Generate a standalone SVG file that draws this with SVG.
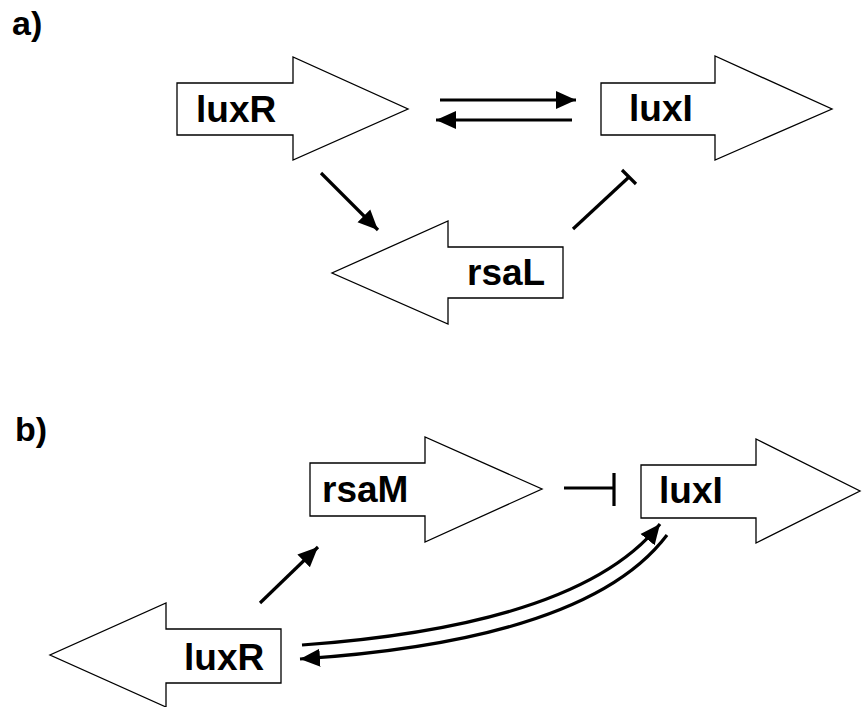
<svg xmlns="http://www.w3.org/2000/svg" width="862" height="707" viewBox="0 0 862 707">
<defs>
<style>
.gene{fill:#fff;stroke:#000;stroke-width:1.3;stroke-linejoin:miter}
.lbl{font-family:"Liberation Sans",Arial,sans-serif;font-weight:bold;font-size:37px;fill:#000}
.panel{font-family:"Liberation Sans",Arial,sans-serif;font-weight:bold;font-size:34px;fill:#000}
.edge{fill:none;stroke:#000;stroke-width:3.2}
</style>
<marker id="ah" markerUnits="userSpaceOnUse" markerWidth="22" markerHeight="20" viewBox="0 0 22 20" refX="20" refY="10" orient="auto">
<path d="M0,1 L20,10 L0,19 Z" fill="#000"/>
</marker>
</defs>
<rect width="862" height="707" fill="#fff"/>
<text class="panel" x="12" y="35">a)</text>
<text class="panel" x="15" y="441">b)</text>

<g id="luxR_a">
<polygon class="gene" points="177,83 293,83 293,57 408,109 293,160 293,135 177,135"/>
<text class="lbl" x="196" y="122">luxR</text>
</g>
<g id="luxI_a">
<polygon class="gene" points="601,83 715,83 715,56 832,109 715,160 715,135 601,135"/>
<text class="lbl" x="629" y="121">luxI</text>
</g>
<g id="rsaL_a">
<polygon class="gene" points="563,247 448,247 448,221 332,273 448,324 448,298 563,298"/>
<text class="lbl" x="467" y="285">rsaL</text>
</g>

<g id="rsaM_b">
<polygon class="gene" points="310,463 425,463 425,437 542,489 425,542 425,516 310,516"/>
<text class="lbl" x="322" y="502">rsaM</text>
</g>
<g id="luxI_b">
<polygon class="gene" points="641,465 756,465 756,439 860,491 756,543 756,518 641,518"/>
<text class="lbl" x="659" y="503">luxI</text>
</g>
<g id="luxR_b">
<polygon class="gene" points="281,629 166,629 166,603 50,655 166,707 166,683 281,683"/>
<text class="lbl" x="184" y="670">luxR</text>
</g>

<g id="connectors">
<line class="edge" x1="440" y1="100" x2="576" y2="100" marker-end="url(#ah)"/>
<line class="edge" x1="572" y1="120" x2="436" y2="120" marker-end="url(#ah)"/>
<line class="edge" x1="321" y1="173" x2="378" y2="230" marker-end="url(#ah)"/>
<line class="edge" x1="573" y1="229" x2="629" y2="177"/>
<line class="edge" x1="622" y1="170" x2="636" y2="184"/>
<line class="edge" x1="564" y1="488" x2="614" y2="488"/>
<line class="edge" x1="614" y1="473" x2="614" y2="506"/>
<line class="edge" x1="260" y1="603" x2="318" y2="547" marker-end="url(#ah)"/>
<path class="edge" d="M302,645 Q580,625 660,524" marker-end="url(#ah)"/>
<path class="edge" d="M667,535 Q588,640 300,659" marker-end="url(#ah)"/>
</g>
</svg>
